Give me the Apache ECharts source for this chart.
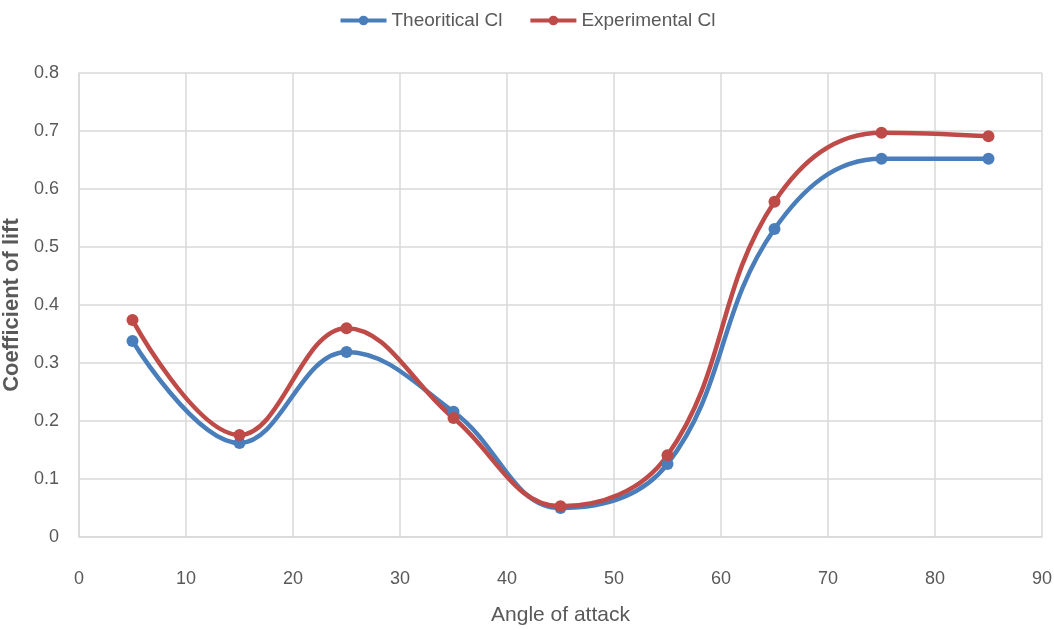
<!DOCTYPE html>
<html><head><meta charset="utf-8">
<script src="https://cdn.jsdelivr.net/npm/echarts@6/dist/echarts.min.js"></script>
<style>html,body{margin:0;padding:0;background:#fff}#c{width:1054px;height:630px}</style>
</head><body><div id="c"></div>
<script>
const angles = [5, 15, 25, 35, 45, 55, 65, 75, 85];
const theoretical = [0.338, 0.162, 0.319, 0.216, 0.050, 0.126, 0.531, 0.652, 0.652];
const experimental = [0.374, 0.176, 0.360, 0.205, 0.053, 0.141, 0.578, 0.697, 0.691];
const seriesNames = ['Theoritical Cl', 'Experimental Cl'];
const xTitle = 'Angle of attack';
const yTitle = 'Coefficient of lift';

const font = '"Liberation Sans", sans-serif';
const chart = echarts.init(document.getElementById('c'));
const pair = (xs, ys) => xs.map((x, i) => [x, ys[i]]);
chart.setOption({
  animation: false,
  color: ['#4a7ebb', '#be4b48'],
  grid: { left: 79, right: 12, top: 73, bottom: 93, outerBoundsMode: 'none', containLabel: false },
  legend: {
    top: 6, left: 'center', itemWidth: 46, itemHeight: 12, itemGap: 26,
    lineStyle: { width: 4 },
    textStyle: { fontFamily: font, fontSize: 19, color: '#595959' },
    data: seriesNames
  },
  xAxis: {
    type: 'value', min: 0, max: 90, interval: 10,
    name: xTitle, nameLocation: 'middle', nameGap: 68,
    nameTextStyle: { fontFamily: font, fontSize: 21, color: '#595959' },
    axisLine: { show: true, lineStyle: { color: '#d9d9d9', width: 1.5 } },
    axisTick: { show: false },
    axisLabel: { margin: 33, fontFamily: font, fontSize: 18, color: '#595959' },
    splitLine: { show: true, lineStyle: { color: '#d9d9d9', width: 1.5 } }
  },
  yAxis: {
    type: 'value', min: 0, max: 0.8, interval: 0.1,
    name: yTitle, nameLocation: 'middle', nameGap: 51, nameRotate: 90,
    nameTextStyle: { fontFamily: font, fontSize: 22, fontWeight: 'bold', color: '#595959' },
    axisLine: { show: true, lineStyle: { color: '#d9d9d9', width: 1.5 } },
    axisTick: { show: false },
    axisLabel: { margin: 20, fontFamily: font, fontSize: 18, color: '#595959' },
    splitLine: { show: true, lineStyle: { color: '#d9d9d9', width: 1.5 } }
  },
  series: [
    { name: seriesNames[0], type: 'line', smooth: 0.4, data: pair(angles, theoretical),
      symbol: 'circle', symbolSize: 12, lineStyle: { width: 4.5 } },
    { name: seriesNames[1], type: 'line', smooth: 0.4, data: pair(angles, experimental),
      symbol: 'circle', symbolSize: 12, lineStyle: { width: 4.5 } }
  ]
});
</script></body></html>
